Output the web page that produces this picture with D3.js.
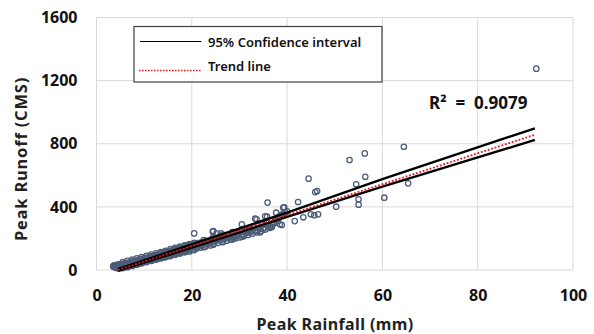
<!DOCTYPE html>
<html><head><meta charset="utf-8">
<script src="https://cdn.jsdelivr.net/npm/d3@7"></script>
<style>body{margin:0;background:#fff}svg{display:block}text{font-family:"Noto Sans",sans-serif}</style>
</head><body><svg id="c" width="594" height="334"></svg>
<script>
const xTicks=[0,20,40,60,80,100];
const yTicks=[0,400,800,1200,1600];
const xLabel="Peak Rainfall (mm)";
const yLabel="Peak Runoff (CMS)";
const legendLabels=["95% Confidence interval","Trend line"];
const r2Text="R²  =  0.9079";
// dense band of observations (x rainfall, y runoff)
const bandX=[3.5,3.6,3.8,3.9,4.0,4.1,4.2,4.4,4.5,4.6,4.7,4.9,5.0,5.1,5.3,5.4,5.6,5.7,5.9,6.0,6.2,6.3,6.5,6.6,6.8,6.9,7.1,7.2,7.4,7.5,7.7,7.8,8.0,8.1,8.3,8.4,8.6,8.7,8.9,9.0,9.2,9.3,9.5,9.6,9.8,9.9,10.1,10.2,10.4,10.5,10.7,10.8,11.0,11.1,11.3,11.4,11.6,11.7,11.9,12.0,12.2,12.3,12.5,12.6,12.8,12.9,13.1,13.2,13.4,13.5,13.7,13.8,14.0,14.1,14.3,14.4,14.6,14.7,14.9,15.0,15.2,15.3,15.5,15.6,15.8,15.9,16.1,16.2,16.4,16.5,16.7,16.8,17.0,17.1,17.3,17.4,17.6,17.7,17.9,18.0,18.2,18.3,18.5,18.6,18.8,18.9,19.1,19.2,19.4,19.5,19.7,19.8,20.0,20.2,20.4,20.6,20.8,21.0,21.2,21.4,21.6,21.8,22.0,22.2,22.5,22.8,23.0,23.3,23.6,23.9,24.2,24.4,24.6,24.9,25.2,25.5,25.8,26.1,26.4,26.7,27.0,27.3,27.6,27.9,28.2,28.5,28.8,29.1,29.4,29.7,30.0,30.3,30.6,30.9,31.2,31.5,31.8,32.1,32.4,32.7,33.0,33.3,33.6,33.9,34.2,34.5,34.8,35.1,35.4,35.7,36.0,36.3,36.8,37.2,37.6,38.0,38.4,38.8,39.2,39.6,40.0];
const bandY=[22,28,18,30,24,14,33,20,28,10,36,22,30,14,38,24,32,18,42,28,36,22,46,32,40,26,50,36,44,30,56,42,50,36,60,46,54,40,66,52,60,44,70,56,64,50,76,60,68,54,80,66,74,58,86,70,78,62,90,74,84,66,94,80,88,72,100,84,92,78,106,90,98,80,112,94,104,86,116,100,108,90,122,104,114,96,128,110,118,100,134,114,124,106,140,120,130,110,144,126,136,116,150,130,140,120,156,136,146,126,160,140,150,130,164,144,156,136,170,150,160,142,176,156,168,148,186,164,176,156,196,180,166,204,186,172,210,192,180,218,200,186,224,206,194,230,212,200,236,218,206,244,226,214,254,234,222,262,242,230,270,250,238,280,258,246,290,268,256,300,278,266,290,300,318,328,340,350,356,365,372];
const band2X=[3.7,4.3,4.8,5.5,6.1,6.7,7.3,7.9,8.5,9.1,9.7,10.3,10.9,11.5,12.1,12.7,13.3,13.9,14.5,15.1,15.7,16.3,16.9,17.5,18.1,18.7,19.3,19.9,20.5,21.1,21.7,22.4,23.1,23.8,24.5,25.3,26.0,26.8,27.5,28.3,29.0,29.8,30.5,31.3,32.0,32.8,33.5,34.3,35.0,35.8,36.5,37.3,38.1,5.2,6.4,7.6,8.8,10.0,11.2,12.4,13.6,14.8,16.0,17.2,18.4,19.6,20.9,22.3,23.7,25.1,26.5];
const band2Y=[26,26,32,28,40,38,46,52,54,62,60,70,72,78,80,86,94,100,100,112,108,120,124,130,132,138,150,146,152,164,156,174,170,186,180,198,190,208,204,220,214,232,224,244,238,256,248,268,262,282,276,296,310,20,26,34,44,56,66,76,86,96,106,116,126,136,148,162,176,190,204];
const band3X=[5.5,6.5,7.5,8.5,9.5,10.5,11.5,12.5,13.5,14.5,15.5,16.5,17.5,18.5,19.5,20.5,22.5,24.5,26.5,28.5,30.5,5.5,6.5,7.5,8.5,9.5,10.5,11.5,12.5,13.5,14.5,15.5,16.5,17.5,18.5,19.5,20.5,22.5,24.5,26.5,28.5,30.5];
const band3Y=[50,58,66,74,82,90,98,106,114,122,132,140,148,156,164,172,190,208,224,240,256,12,18,26,34,42,50,58,66,74,82,88,96,104,112,118,126,144,160,176,194,210];
// scattered observations
const outX=[20.5,24.5,25.2,24.4,26.1,28.7,30.5,33.3,33.6,35.4,35.8,35.9,34.3,36.7,36.8,37.7,38.5,38.9,39.2,39.4,41.6,42.3,43.4,44.5,45.0,45.7,46.5,45.9,46.3,50.3,53.1,54.5,55.0,55.0,56.3,56.4,60.4,64.5,65.4,92.3];
const outY=[232,247,233,243,232,205,290,325,321,340,338,427,239,271,274,363,290,285,395,397,310,431,334,579,353,347,353,494,500,401,697,543,448,414,739,591,458,781,549,1276];
// fitted lines (read at a few x positions)
const trendX=[4.5,92];
const trendY=[0,857];
const upperX=[4.5,20,40,60,92];
const upperY=[6,162,364,576,898];
const lowerX=[4.5,20,40,60,92];
const lowerY=[-6,142,336,528,824];

const svg=d3.select("#c");
const L=96.5,R=573,T=17.5,B=270;
const x=d3.scaleLinear().domain([0,100]).range([L,R]);
const y=d3.scaleLinear().domain([0,1600]).range([B,T]);

svg.append("g").selectAll("line").data(xTicks).join("line")
 .attr("x1",d=>x(d)).attr("x2",d=>x(d)).attr("y1",T).attr("y2",B)
 .attr("stroke","#d9d9d9").attr("stroke-width",1);
svg.append("g").selectAll("line").data(yTicks).join("line")
 .attr("x1",L).attr("x2",R).attr("y1",d=>y(d)).attr("y2",d=>y(d))
 .attr("stroke","#d9d9d9").attr("stroke-width",1);

const xa=svg.append("g").attr("transform",`translate(0,${B})`)
 .call(d3.axisBottom(x).tickValues(xTicks).tickFormat(d3.format("d")).tickSize(0).tickPadding(20));
xa.select(".domain").remove();
xa.selectAll("text").attr("font-size","16px").attr("font-weight","bold").attr("fill","#111").attr("font-family","'Noto Sans',sans-serif");
const ya=svg.append("g").attr("transform",`translate(${L},0)`)
 .call(d3.axisLeft(y).tickValues(yTicks).tickFormat(d3.format("d")).tickSize(0).tickPadding(19));
ya.select(".domain").remove();
ya.selectAll("text").attr("font-size","16px").attr("font-weight","bold").attr("fill","#111").attr("font-family","'Noto Sans',sans-serif");

svg.append("text").attr("x",335).attr("y",330).attr("text-anchor","middle")
 .attr("font-size","16px").attr("font-weight","bold").attr("fill","#222").attr("letter-spacing","0.4px").text(xLabel);
svg.append("text").attr("transform","translate(27,159) rotate(-90)").attr("text-anchor","middle")
 .attr("font-size","16.5px").attr("font-weight","bold").attr("fill","#222").attr("letter-spacing","0.8px").text(yLabel);

const pts=bandX.map((v,i)=>[v,bandY[i]])
 .concat(band2X.map((v,i)=>[v,band2Y[i]]))
 .concat(band3X.map((v,i)=>[v,band3Y[i]]))
 .concat(outX.map((v,i)=>[v,outY[i]]));
svg.append("g").selectAll("circle").data(pts).join("circle")
 .attr("cx",d=>x(d[0])).attr("cy",d=>y(d[1])).attr("r",2.7)
 .attr("fill","none").attr("stroke","#4d5d78").attr("stroke-width",1.3);

const line=d3.line().x(d=>x(d[0])).y(d=>y(d[1]));
[[upperX,upperY],[lowerX,lowerY]].forEach(([xs,ys])=>{
 svg.append("path").datum(xs.map((v,i)=>[v,ys[i]])).attr("d",line)
  .attr("fill","none").attr("stroke","#000").attr("stroke-width",2.4);
});
svg.append("path").datum(trendX.map((v,i)=>[v,trendY[i]])).attr("d",line)
 .attr("fill","none").attr("stroke","#e8101a").attr("stroke-width",1.8).attr("stroke-dasharray","1.8,1.8");

svg.append("rect").attr("x",134).attr("y",26.5).attr("width",248).attr("height",55.5)
 .attr("fill","#fff").attr("stroke","#404040").attr("stroke-width",1.2);
svg.append("line").attr("x1",140).attr("x2",201.5).attr("y1",41.5).attr("y2",41.5).attr("stroke","#000").attr("stroke-width",1.2);
svg.append("line").attr("x1",139).attr("x2",201.5).attr("y1",70.5).attr("y2",70.5).attr("stroke","#e8101a").attr("stroke-width",1.5).attr("stroke-dasharray","1.5,1.5");
svg.append("text").attr("x",208).attr("y",47).attr("font-size","13px").attr("font-weight","600").attr("fill","#111").text(legendLabels[0]);
svg.append("text").attr("x",208).attr("y",71).attr("font-size","13px").attr("font-weight","600").attr("fill","#111").text(legendLabels[1]);

svg.append("text").attr("x",429).attr("y",109).attr("font-size","17px").attr("font-weight","bold").attr("fill","#111").style("white-space","pre").text(r2Text);
</script></body></html>
